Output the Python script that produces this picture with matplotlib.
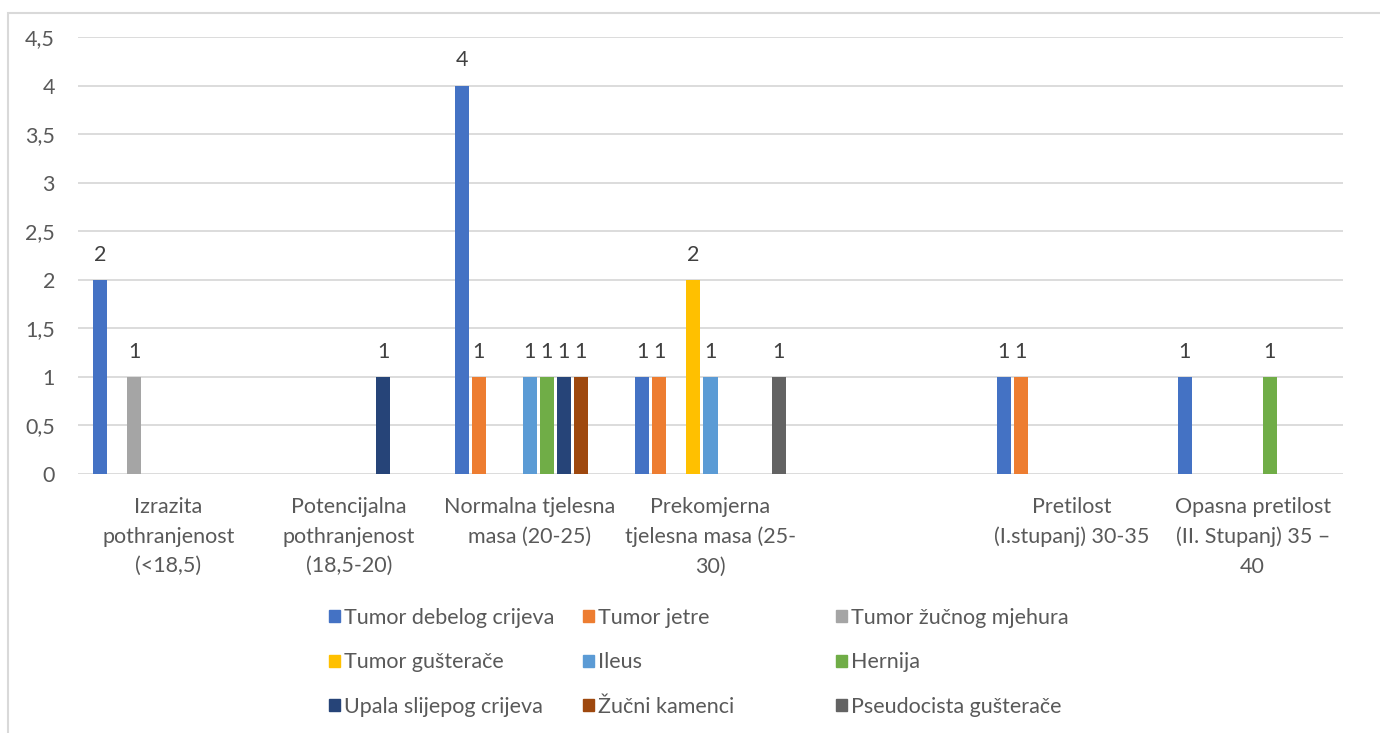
import numpy as np
import matplotlib.pyplot as plt
from matplotlib.patches import Rectangle, Patch

plt.rcParams['font.family'] = ['Lato', 'DejaVu Sans']

# categories (BMI groups) - fifth group is empty in the source
categories = [
    "Izrazita\npothranjenost\n(<18,5)",
    "Potencijalna\npothranjenost\n(18,5-20)",
    "Normalna tjelesna\nmasa (20-25)",
    "Prekomjerna\ntjelesna masa (25-\n30)",
    "",
    "Pretilost\n(I.stupanj) 30-35",
    "Opasna pretilost\n(II. Stupanj) 35 –\n40",
]

series_names = [
    "Tumor debelog crijeva", "Tumor jetre", "Tumor žučnog mjehura",
    "Tumor gušterače", "Ileus", "Hernija",
    "Upala slijepog crijeva", "Žučni kamenci", "Pseudocista gušterače",
]
colors = ["#4472C4", "#ED7D31", "#A5A5A5", "#FFC000", "#5B9BD5",
          "#70AD47", "#264478", "#9E480E", "#636363"]

# values per series, one entry per category
tumor_debelog = [2, 0, 4, 1, 0, 1, 1]
tumor_jetre = [0, 0, 1, 1, 0, 1, 0]
tumor_zucnog = [1, 0, 0, 0, 0, 0, 0]
tumor_gusterace = [0, 0, 0, 2, 0, 0, 0]
ileus = [0, 0, 1, 1, 0, 0, 0]
hernija = [0, 0, 1, 0, 0, 0, 1]
upala = [0, 1, 1, 0, 0, 0, 0]
zucni_kamenci = [0, 0, 1, 0, 0, 0, 0]
pseudocista = [0, 0, 0, 1, 0, 0, 0]

values = [tumor_debelog, tumor_jetre, tumor_zucnog, tumor_gusterace, ileus,
          hernija, upala, zucni_kamenci, pseudocista]

text_col = "#595959"
grid_col = "#D9D9D9"
fs = 15.5

fig = plt.figure(figsize=(13.8, 7.33), dpi=100)
ax = fig.add_axes([78 / 1380, 1 - 474 / 733, (1343 - 78) / 1380, (474 - 37) / 733])

x = np.arange(len(categories))
slot = 17 / 180.7
width = 14 / 180.7
for i, (name, vals) in enumerate(zip(series_names, values)):
    pos = x + (i - 4) * slot
    bars = ax.bar(pos, vals, width=width, color=colors[i], label=name, zorder=3)
    for b, v in zip(bars, vals):
        if v:
            ax.annotate(str(v), (b.get_x() + b.get_width() / 2, v),
                        xytext=(0, 11), textcoords="offset points",
                        ha="center", va="bottom", fontsize=fs, color="#404040")

ax.set_xlim(-0.5, len(categories) - 0.5)
ax.set_ylim(0, 4.5)
ax.set_yticks(np.arange(0, 4.51, 0.5))
ax.set_yticklabels([f"{t:g}".replace(".", ",") for t in np.arange(0, 4.51, 0.5)])
ax.set_xticks(x)
ax.set_xticklabels(categories, linespacing=1.6)
ax.tick_params(axis="both", length=0, labelsize=fs, colors=text_col)
ax.tick_params(axis="y", pad=16.5)
ax.tick_params(axis="x", pad=16.5)
ax.grid(axis="y", color=grid_col, linewidth=1.3, zorder=0)
for s in ax.spines.values():
    s.set_visible(False)

# outer chart border
fig.patches.append(Rectangle((8 / 1380, -0.1), 1.2, 1 - 13 / 733 + 0.1,
                             transform=fig.transFigure, fill=False,
                             edgecolor=grid_col, linewidth=1.5))

# legend in three equal columns
col_x = [318 / 1380, 572 / 1380, 825 / 1380]
for c in range(3):
    idx = [c, c + 3, c + 6]
    handles = [Patch(color=colors[i]) for i in idx]
    fig.legend(handles, [series_names[i] for i in idx],
               loc="upper left", bbox_to_anchor=(col_x[c], 1 - 597 / 733),
               frameon=False, fontsize=fs, labelcolor=text_col,
               handlelength=0.5, handleheight=0.5, handletextpad=0.2,
               labelspacing=1.14, borderpad=0)

fig.savefig("out.png", dpi=100)
